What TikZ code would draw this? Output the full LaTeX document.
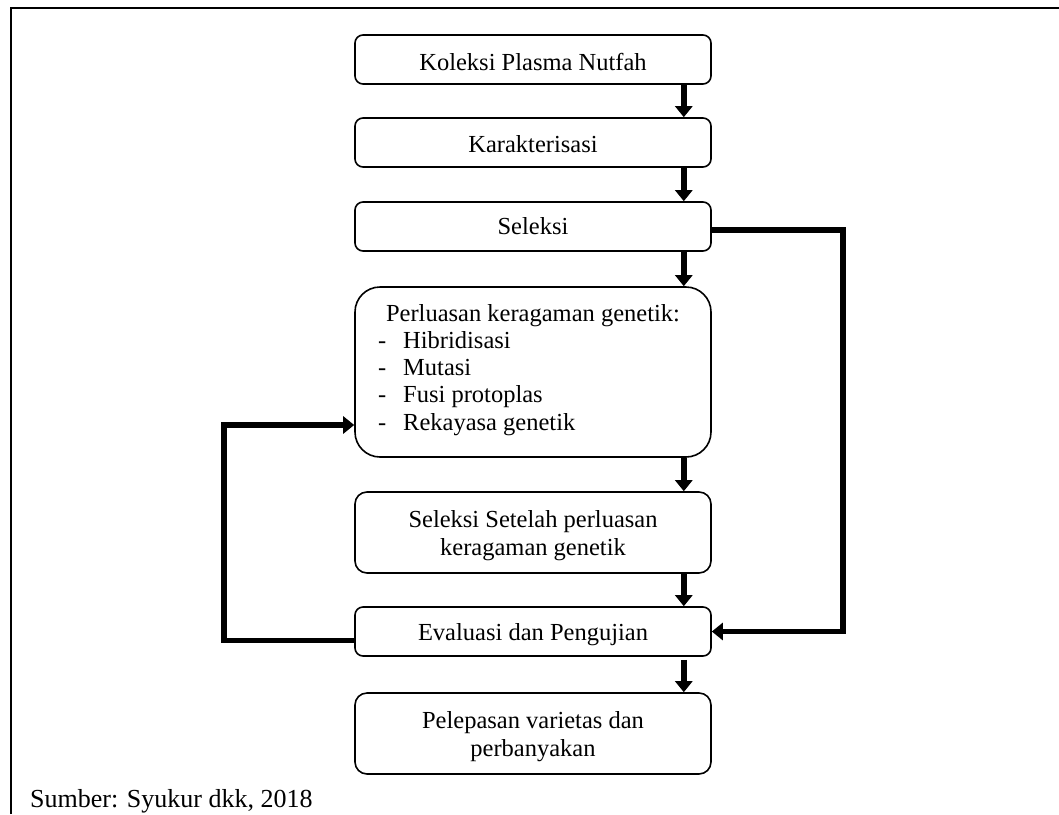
\documentclass[tikz,border=0pt]{standalone}
\usepackage{fontspec}
\setmainfont{Liberation Serif}
\usetikzlibrary{arrows.meta}
\begin{document}
\begin{tikzpicture}[x=1pt,y=-1pt,
  box/.style={draw, line width=1.6pt, rounded corners=8pt, minimum width=356pt, inner sep=0pt},
  txt/.style={font=\fontsize{24.5}{28}\selectfont, inner sep=0pt},
  flow/.style={line width=6pt, -{Triangle[width=17pt,length=11pt]}},
  loopline/.style={line width=5.5pt, line join=miter, -{Triangle[width=17pt,length=11pt]}}
]
\useasboundingbox (0,0) rectangle (1059,814);
\draw[line width=2.5pt, line join=miter] (11,814) -- (11,8) -- (1059,8);

% boxes
\node[box, minimum height=49pt] (b1) at (533,59.5) {};
\node[box, minimum height=49pt] (b2) at (533,142.5) {};
\node[box, minimum height=49pt] (b3) at (533,226.5) {};
\node[box, minimum height=170pt, rounded corners=25pt] (b4) at (533,372) {};
\node[box, minimum height=81pt, rounded corners=12pt] (b5) at (533,532.5) {};
\node[box, minimum height=49pt] (b6) at (533,631.5) {};
\node[box, minimum height=81pt, rounded corners=12pt] (b7) at (533,733.5) {};

% texts
\node[txt, anchor=base] (t1) at (533,70) {Koleksi Plasma Nutfah};
\node[txt, anchor=base] (t2) at (533,152) {Karakterisasi};
\node[txt, anchor=base] (t3) at (533,234.5) {Seleksi};
\node[txt, anchor=base] (t4) at (533,321) {Perluasan keragaman genetik:};
\node[txt, anchor=base west] (d1) at (378,348) {-};
\node[txt, anchor=base west] (i1) at (403,348) {Hibridisasi};
\node[txt, anchor=base west] (d2) at (378,375.5) {-};
\node[txt, anchor=base west] (i2) at (403,375.5) {Mutasi};
\node[txt, anchor=base west] (d3) at (378,402.5) {-};
\node[txt, anchor=base west] (i3) at (403,402.5) {Fusi protoplas};
\node[txt, anchor=base west] (d4) at (378,430) {-};
\node[txt, anchor=base west] (i4) at (403,430) {Rekayasa genetik};
\node[txt, anchor=base] (t5) at (533,527) {\begin{tabular}[t]{@{}c@{}}Seleksi Setelah perluasan\\keragaman genetik\end{tabular}};
\node[txt, anchor=base] (t6) at (533,640) {Evaluasi dan Pengujian};
\node[txt, anchor=base] (t7) at (533,728) {\begin{tabular}[t]{@{}c@{}}Pelepasan varietas dan\\perbanyakan\end{tabular}};
\node[font=\fontsize{26}{30}\selectfont, inner sep=0pt, anchor=base west] (src) at (30,807) {Sumber: Syukur dkk, 2018};

% flow arrows
\draw[flow] ([xshift=-28pt]b1.south east) -- ([xshift=-28pt]b2.north east);
\draw[flow] ([xshift=-28pt]b2.south east) -- ([xshift=-28pt]b3.north east);
\draw[flow] ([xshift=-28pt]b3.south east) -- ([xshift=-28pt]b4.north east);
\draw[flow] ([xshift=-28pt]b4.south east) -- ([xshift=-28pt]b5.north east);
\draw[flow] ([xshift=-28pt]b5.south east) -- ([xshift=-28pt]b6.north east);
\draw[flow, shorten <=3pt] ([xshift=-28pt]b6.south east) -- ([xshift=-28pt]b7.north east);

% loops
\draw[loopline] ([yshift=-3.5pt]b3.east) -- ++(131,0) |- (b6.east);
\draw[loopline] ([yshift=-9pt]b6.west) -- ++(-130,0) |- ([yshift=-53pt]b4.west);
\end{tikzpicture}
\end{document}
